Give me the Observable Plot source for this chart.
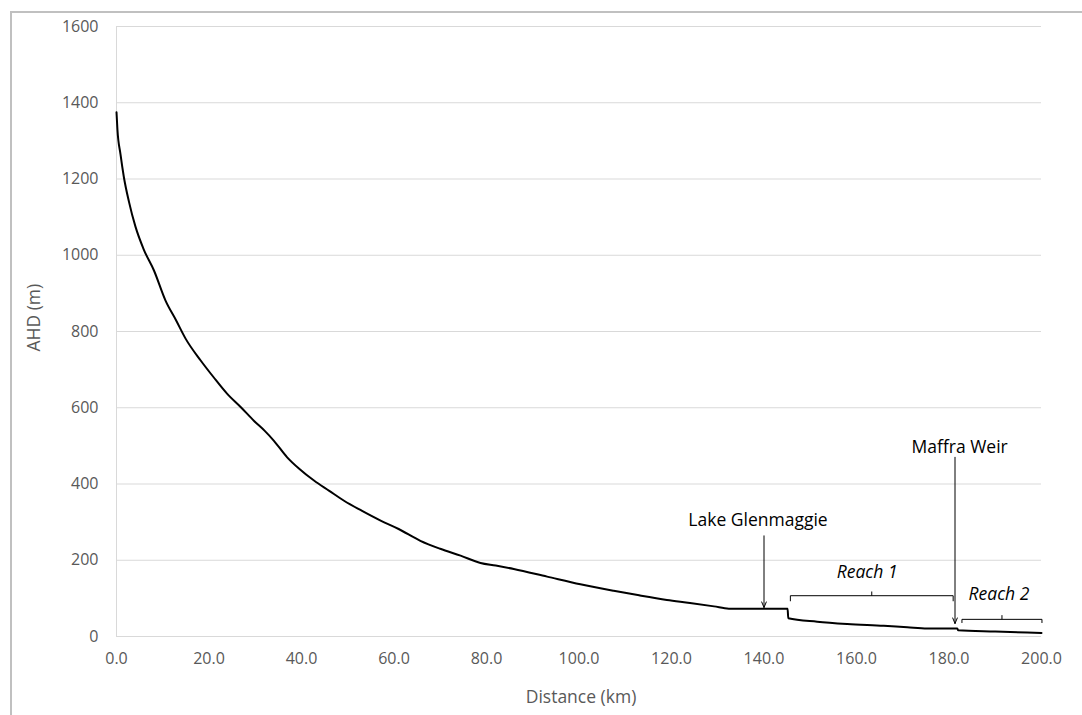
<!DOCTYPE html>
<html>
<head>
<meta charset="utf-8">
<script src="https://cdn.jsdelivr.net/npm/d3@7"></script>
<script src="https://cdn.jsdelivr.net/npm/@observablehq/plot@0.6"></script>
<style>
  html, body { margin: 0; padding: 0; background: #fff; }
  #wrap { position: relative; width: 1082px; height: 715px; overflow: hidden; }
  #frame { position: absolute; left: 10px; top: 11px; right: -5px; bottom: -5px;
           border-left: 2px solid #c0c0c0; border-top: 2px solid #c0c0c0; pointer-events: none; }
  #chart { position: absolute; left: 0; top: 0; }
</style>
</head>
<body>
<div id="wrap"><div id="chart"></div><div id="frame"></div></div>
<script>
// Longitudinal profile (distance km vs elevation m AHD)
const distanceKm = [0, 0.2, 0.86, 1.58, 2.7, 4.1, 5.9, 8.1, 10.6, 12.9, 15.0, 18.2, 21, 23.9, 27, 29.7, 32, 34, 36.9, 39.5, 42.7, 46, 49.2, 53, 57.1, 61, 65.7, 70, 74.4, 78.7, 82, 85.9, 93.1, 100.3, 107.5, 113, 119, 124, 129.2, 132.4, 145.1, 145.25, 151.5, 158, 165.9, 171, 175.3, 181.8, 181.95, 190, 200];
const elevationM = [1375, 1330, 1265, 1206, 1140, 1075, 1015, 960, 881, 829, 780, 724, 680, 637, 600, 566, 540, 514, 470, 440, 409, 382, 356, 330, 304, 282, 251, 230, 212, 193, 186, 177, 157, 137, 120, 108, 96, 88, 79, 73, 73, 48, 39, 33, 28, 24, 21, 21, 16.5, 13, 9];

const yTicks = [0, 200, 400, 600, 800, 1000, 1200, 1400, 1600];
const xTicks = [0, 20, 40, 60, 80, 100, 120, 140, 160, 180, 200];

// annotations
const arrowLabels = ["Lake Glenmaggie", "Maffra Weir"];
const arrowX = [140, 181.3];
const arrowTop = [264, 470];
const arrowTip = [76, 34];
const arrowLabelY = [304, 496];
const arrowLabelX = [138.7, 182.3];

const reachLabels = ["Reach 1", "Reach 2"];
const reachStart = [145.7, 182.8];
const reachEnd = [180.9, 200.1];
const reachLevel = [107, 45];
const reachFoot = [93.5, 36.5];
const reachTickTop = [118, 56];
const reachLabelX = [162.3, 190.8];
const reachLabelY = [168, 111];

const profile = distanceKm.map((d, i) => ({d, e: elevationM[i]}));
const arrows = arrowLabels.map((t, i) => ({t, x: arrowX[i], y1: arrowTop[i], y2: arrowTip[i], lx: arrowLabelX[i], ly: arrowLabelY[i]}));
const brackets = [];
reachLabels.forEach((t, i) => {
  [[reachStart[i], reachFoot[i]], [reachStart[i], reachLevel[i]], [reachEnd[i], reachLevel[i]], [reachEnd[i], reachFoot[i]]]
    .forEach(([x, y]) => brackets.push({z: t, x, y}));
});
const reaches = reachLabels.map((t, i) => ({t, mid: (reachStart[i] + reachEnd[i]) / 2, lvl: reachLevel[i], top: reachTickTop[i], lx: reachLabelX[i], ly: reachLabelY[i]}));

const FONT = "'Open Sans', 'Noto Sans', sans-serif";

const plot = Plot.plot({
  width: 1082,
  height: 715,
  marginLeft: 116,
  marginRight: 41,
  marginTop: 26,
  marginBottom: 79,
  style: {fontFamily: FONT, fontSize: "16px", color: "#595959", background: "transparent"},
  x: {domain: [0, 200], label: null},
  y: {domain: [0, 1600], label: null},
  marks: [
    Plot.gridY(yTicks, {stroke: "#d9d9d9", strokeOpacity: 1, strokeWidth: 1}),
    Plot.ruleX([0], {stroke: "#d9d9d9", strokeWidth: 1}),
    Plot.axisX({ticks: xTicks, tickFormat: d3.format(".1f"), tickSize: 0, tickPadding: 16, fill: "#595959", fontSize: 16, label: null}),
    Plot.axisY({ticks: yTicks, tickFormat: d => String(d), tickSize: 0, tickPadding: 18, fill: "#595959", fontSize: 16, label: null}),
    Plot.line(profile, {x: "d", y: "e", stroke: "#000", strokeWidth: 2, curve: "monotone-x"}),
    Plot.arrow(arrows, {x1: "x", x2: "x", y1: "y1", y2: "y2", stroke: "#000", strokeWidth: 1, headLength: 9, headAngle: 45}),
    Plot.text(arrows, {x: "lx", y: "ly", text: "t", fill: "#000", fontSize: 17.5}),
    Plot.line(brackets, {x: "x", y: "y", z: "z", stroke: "#000", strokeWidth: 1}),
    Plot.link(reaches, {x1: "mid", x2: "mid", y1: "lvl", y2: "top", stroke: "#000", strokeWidth: 1}),
    Plot.text(reaches, {x: "lx", y: "ly", text: "t", fill: "#000", fontSize: 17.5, fontStyle: "italic"}),
    Plot.text(["Distance (km)"], {frameAnchor: "bottom", dx: 2, dy: 66, fill: "#595959", fontSize: 17.5}),
    Plot.text(["AHD (m)"], {frameAnchor: "left", dx: -82, dy: 20, rotate: -90, fill: "#595959", fontSize: 17.5})
  ]
});
document.getElementById("chart").appendChild(plot);
</script>
</body>
</html>
